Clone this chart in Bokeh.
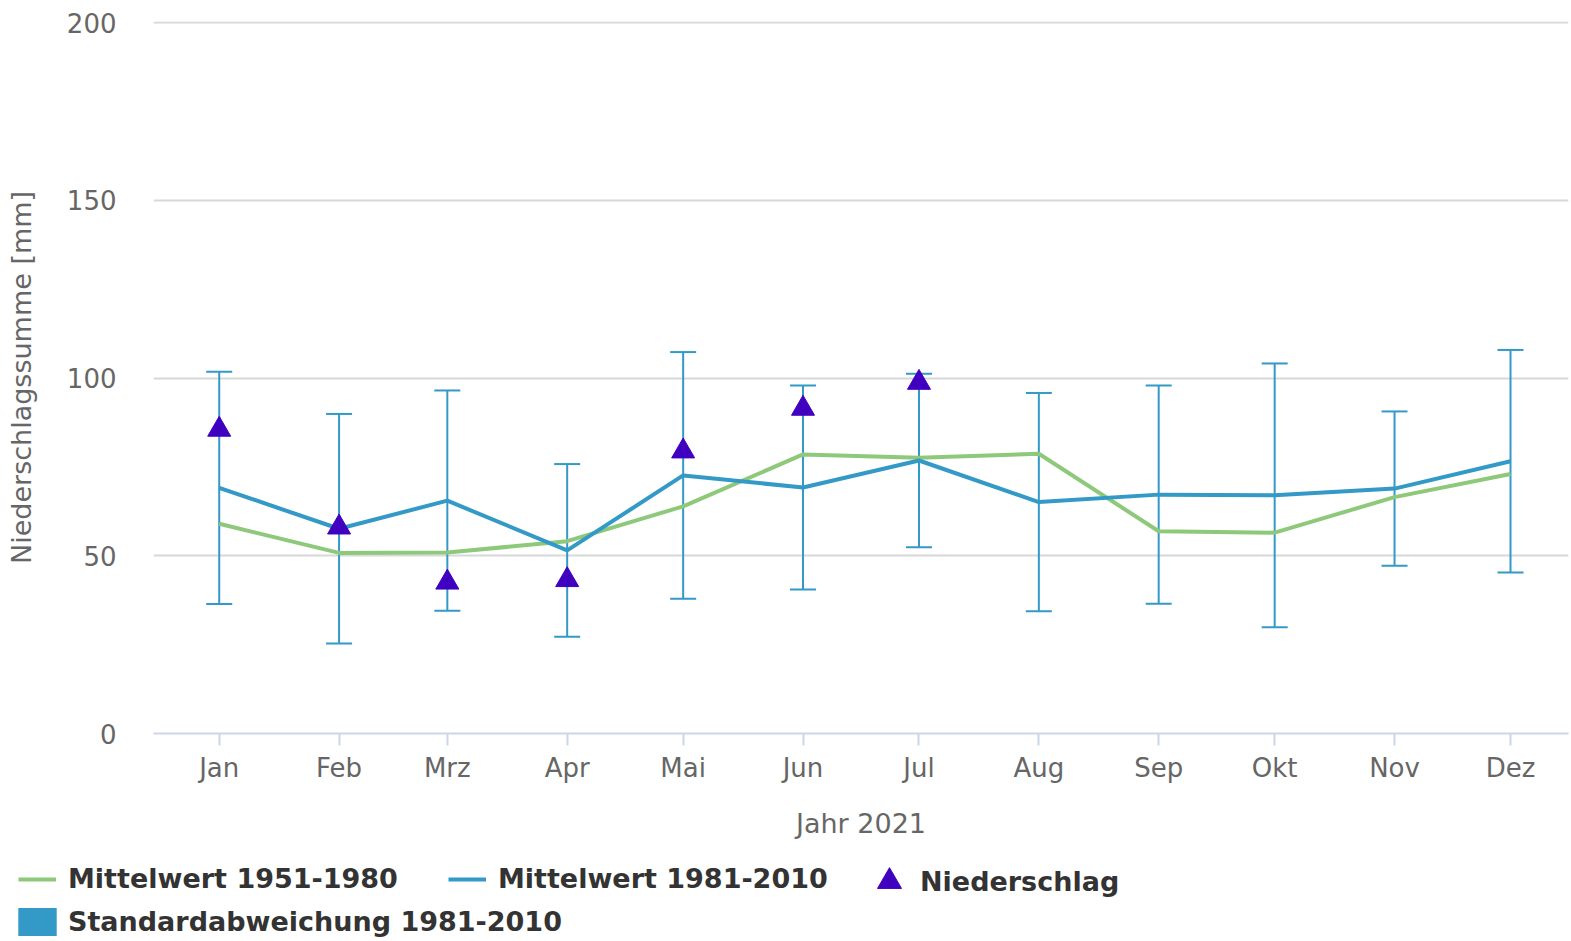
import numpy as np
import pandas as pd
from bokeh.plotting import figure
from bokeh.layouts import column
from bokeh.models import (ColumnDataSource, Range1d, FixedTicker, CustomJSTickFormatter,
                          Whisker, TeeHead, Legend, LegendItem)
from bokeh.embed import file_html
from bokeh.resources import INLINE

# ---------------- data ----------------
months = ["Jan", "Feb", "Mrz", "Apr", "Mai", "Jun", "Jul", "Aug", "Sep", "Okt", "Nov", "Dez"]
month_starts = ["2021-01-01", "2021-02-01", "2021-03-01", "2021-04-01", "2021-05-01", "2021-06-01",
                "2021-07-01", "2021-08-01", "2021-09-01", "2021-10-01", "2021-11-01", "2021-12-01"]
mean_1951_1980 = [59.0, 50.8, 50.9, 54.1, 63.9, 78.5, 77.6, 78.7, 56.9, 56.5, 66.5, 73.0]
mean_1981_2010 = [69.1, 57.6, 65.5, 51.5, 72.6, 69.2, 76.8, 65.1, 67.2, 67.0, 68.9, 76.6]
std_1981_2010 = [32.7, 32.3, 31.0, 24.3, 34.7, 28.7, 24.4, 30.7, 30.7, 37.1, 21.7, 31.3]
niederschlag_2021 = [85.5, 58.0, 42.5, 43.2, 79.4, 91.4, 98.7]
y_ticks = [0, 50, 100, 150, 200]
legend_labels = ["Mittelwert 1951-1980", "Mittelwert 1981-2010", "Niederschlag",
                 "Standardabweichung 1981-2010"]

GREEN = "#8ec97b"
BLUE = "#3399c6"
PURPLE = "#4000c0"
FONT = "DejaVu Sans"

dates = pd.to_datetime(month_starts)
mean2 = np.array(mean_1981_2010)
std = np.array(std_1981_2010)

src = ColumnDataSource(dict(
    x=dates, m1=mean_1951_1980, m2=mean_1981_2010,
    upper=mean2 + std, lower=mean2 - std,
))
src_n = ColumnDataSource(dict(x=dates[:len(niederschlag_2021)], y=niederschlag_2021))

x_range = Range1d(pd.Timestamp("2020-12-15"), pd.Timestamp("2021-12-16"))
p = figure(width=1571, height=843, x_axis_type="datetime",
           x_range=x_range, y_range=Range1d(0, 200.3),
           output_backend="svg", toolbar_location=None,
           min_border_left=153, min_border_right=3, min_border_top=21, min_border_bottom=110)
p.outline_line_color = None
p.frame_align = False

# error bars (standard deviation)
whisk = Whisker(source=src, base="x", upper="upper", lower="lower", dimension="height",
                line_color=BLUE, line_width=2,
                upper_head=TeeHead(size=26, line_color=BLUE, line_width=2),
                lower_head=TeeHead(size=26, line_color=BLUE, line_width=2))
p.add_layout(whisk)

p.line("x", "m1", source=src, line_color=GREEN, line_width=4)
p.line("x", "m2", source=src, line_color=BLUE, line_width=4)
p.scatter("x", "y", source=src_n, marker="triangle", size=23,
          fill_color=PURPLE, line_color=PURPLE)

# axes
tick_ms = [d.value // 10**6 for d in dates]
p.xaxis.ticker = FixedTicker(ticks=tick_ms)
p.xaxis.formatter = CustomJSTickFormatter(args=dict(months=months),
                                          code="return months[new Date(tick).getUTCMonth()];")
p.xaxis.axis_label = "Jahr 2021"
p.xaxis.axis_line_color = "#ccd6eb"
p.xaxis.axis_line_width = 2
p.xaxis.major_tick_line_color = "#ccd6eb"
p.xaxis.major_tick_line_width = 2
p.xaxis.major_tick_out = 12
p.xaxis.major_tick_in = 0
p.xaxis.minor_tick_line_color = None
p.xaxis.major_label_standoff = 7
p.xaxis.axis_label_standoff = 22

p.yaxis.ticker = FixedTicker(ticks=y_ticks)
p.yaxis.axis_label = "Niederschlagssumme [mm]"
p.yaxis.axis_line_color = None
p.yaxis.major_tick_line_color = None
p.yaxis.minor_tick_line_color = None
p.yaxis.major_tick_out = 0
p.yaxis.major_tick_in = 0
p.yaxis.major_label_standoff = 37
p.yaxis.axis_label_standoff = 27

for ax in (p.xaxis, p.yaxis):
    ax.major_label_text_font = FONT
    ax.major_label_text_font_size = "26px"
    ax.major_label_text_color = "#666666"
    ax.axis_label_text_font = FONT
    ax.axis_label_text_font_size = "27px"
    ax.axis_label_text_font_style = "normal"
    ax.axis_label_text_color = "#666666"

p.xgrid.grid_line_color = None
p.ygrid.grid_line_color = "#d8d8d8"
p.ygrid.grid_line_width = 2

# ---------------- legend strip (same series, kept out of its view; only the legend shows) ----------------
q = figure(width=1571, height=98, x_range=x_range, y_range=Range1d(1000, 1001),
           output_backend="svg", toolbar_location=None,
           x_axis_location=None, y_axis_location=None,
           min_border_left=0, min_border_right=0, min_border_top=0, min_border_bottom=0)
q.outline_line_color = None
q.grid.grid_line_color = None
q.frame_align = False
lr_g = q.line("x", "m1", source=src, line_color=GREEN, line_width=4)
lr_b = q.line("x", "m2", source=src, line_color=BLUE, line_width=4)
lr_n = q.scatter("x", "y", source=src_n, marker="triangle", fill_color=PURPLE, line_color=PURPLE)
lr_s = q.quad(left="x", right="x", top="upper", bottom="lower", source=src,
              fill_color=BLUE, line_color=None)


def mk_legend(items, loc, gw=38, gh=28, standoff=12):
    return Legend(items=items, location=loc, orientation="horizontal",
                  background_fill_alpha=0, border_line_alpha=0, padding=0, margin=0,
                  spacing=50, label_standoff=standoff, glyph_width=gw, glyph_height=gh,
                  label_text_font=FONT, label_text_font_size="27px",
                  label_text_font_style="bold", label_text_color="#333333")


lg1 = mk_legend([LegendItem(label=legend_labels[0], renderers=[lr_g]),
                 LegendItem(label=legend_labels[1], renderers=[lr_b])], (18, 47))
lg3 = mk_legend([LegendItem(label=legend_labels[2], renderers=[lr_n])], (859, 30),
                gw=60, gh=60, standoff=1)
lg2 = mk_legend([LegendItem(label=legend_labels[3], renderers=[lr_s])], (13, 2),
                gw=48, gh=35, standoff=7)
for lg in (lg1, lg3, lg2):
    q.add_layout(lg, "center")

layout = column(p, q)
open("out.html", "w").write(file_html(layout, INLINE))
